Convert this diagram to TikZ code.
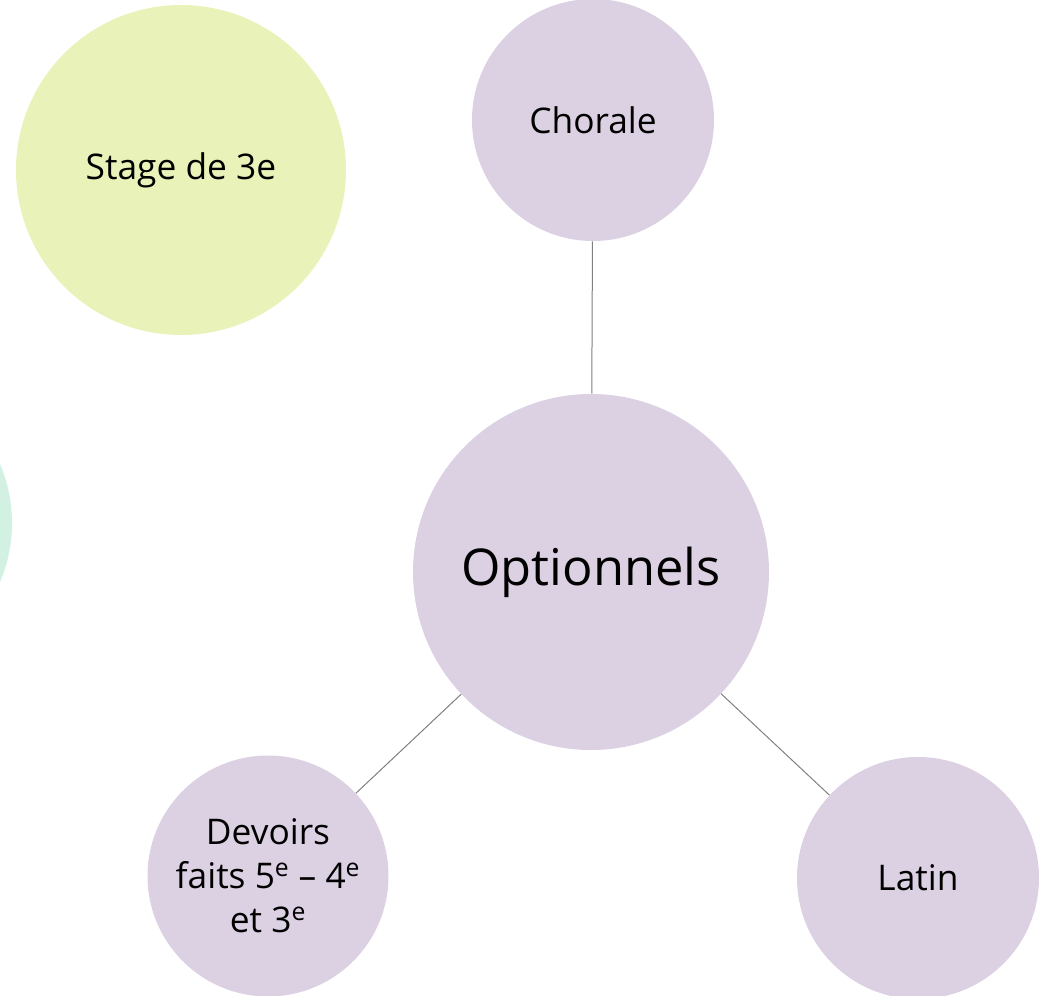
\documentclass[tikz,border=0pt]{standalone}
\usepackage{fontspec}
\setmainfont{Open Sans}
\definecolor{lavande}{HTML}{DCD1E3}
\definecolor{anis}{HTML}{E9F2B8}
\definecolor{menthe}{HTML}{D3F1E3}
\definecolor{trait}{HTML}{808080}
\begin{document}
\begin{tikzpicture}[x=0.75pt,y=-0.75pt,
    bulle/.style={circle,fill=lavande,inner sep=0pt,align=center,font=\fontsize{26.5}{33}\selectfont},
    lien/.style={draw=trait,line width=0.75pt}]
      \useasboundingbox (0,0) rectangle (1051,996);

      \fill[menthe] (-138,523) circle (150);
      \node[bulle,fill=anis,minimum size=330*0.75pt] (stage) at (181,170) {Stage de 3e};

      \node[bulle,minimum size=356*0.75pt,font=\fontsize{38}{46}\selectfont] (option) at (591,572) {Optionnels};
      \node[bulle,minimum size=242*0.75pt] (chorale) at (593,120) {Chorale};
      \node[bulle,minimum size=241*0.75pt] (devoirs) at (268,876)
        {Devoirs\\faits 5\textsuperscript{e} -- 4\textsuperscript{e}\\et 3\textsuperscript{e}};
      \node[bulle,minimum size=242*0.75pt] (latin) at (918,878) {Latin};

      \foreach \n in {chorale,devoirs,latin} {
        \draw[lien] (option) -- (\n);
      }

    \end{tikzpicture}
\end{document}
